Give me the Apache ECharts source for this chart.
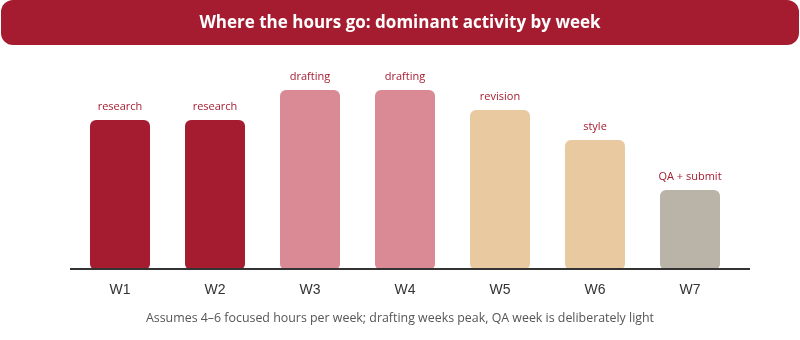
<!DOCTYPE html>
<html><head><meta charset="utf-8">
<script src="https://cdn.jsdelivr.net/npm/echarts@6/dist/echarts.min.js"></script>
<style>html,body{margin:0;padding:0;background:#fff}#c{width:800px;height:340px}</style>
</head><body><div id="c"></div>
<script>
const weeks = ['W1','W2','W3','W4','W5','W6','W7'];
const activities = ['research','research','drafting','drafting','revision','style','QA + submit'];
const values = [15,15,18,18,16,13,8];
const activityColors = {research:'#A51C30', drafting:'#D98A95', revision:'#E8C9A0', style:'#E8C9A0', 'QA + submit':'#BAB3A7'};
const titleText = 'Where the hours go: dominant activity by week';
const noteText = 'Assumes 4\u20136 focused hours per week; drafting weeks peak, QA week is deliberately light';

const FONT = '"Open Sans", "Noto Sans", sans-serif';
const chart = echarts.init(document.getElementById('c'), null, {renderer:'canvas'});
chart.setOption({
  animation:false,
  grid:{left:72.5, right:62.5, top:70, bottom:70},
  xAxis:{type:'category', data:weeks,
    axisLine:{show:false}, axisTick:{show:false},
    axisLabel:{color:'#333', fontSize:14, fontFamily:'"Liberation Sans", Arial, sans-serif', margin:13}},
  yAxis:{type:'value', min:0, max:20, show:false, splitLine:{show:false}},
  graphic:[
    {type:'rect', shape:{x:1,y:0,width:798,height:45,r:12}, style:{fill:'#A51C30'}, z:0},
    {type:'text', x:400, y:23, style:{text:titleText, fill:'#fff', font:'bold 17px '+FONT, textAlign:'center', textVerticalAlign:'middle'}},
    {type:'line', shape:{x1:70,y1:269,x2:750,y2:269}, style:{stroke:'#333', lineWidth:2}, z:10},
    {type:'text', x:400, y:318, style:{text:noteText, fill:'#555', font:'12.4px '+FONT, textAlign:'center', textVerticalAlign:'middle'}}
  ],
  series:[{type:'bar', barWidth:60,
    data: values.map((v,i)=>({value:v, itemStyle:{color:activityColors[activities[i]]}})),
    itemStyle:{borderRadius:[6,6,6,6]},
    label:{show:true, position:'top', distance:8, color:'#A51C30', fontSize:11, fontFamily:FONT,
      formatter:p=>activities[p.dataIndex]}
  }]
});
</script></body></html>
